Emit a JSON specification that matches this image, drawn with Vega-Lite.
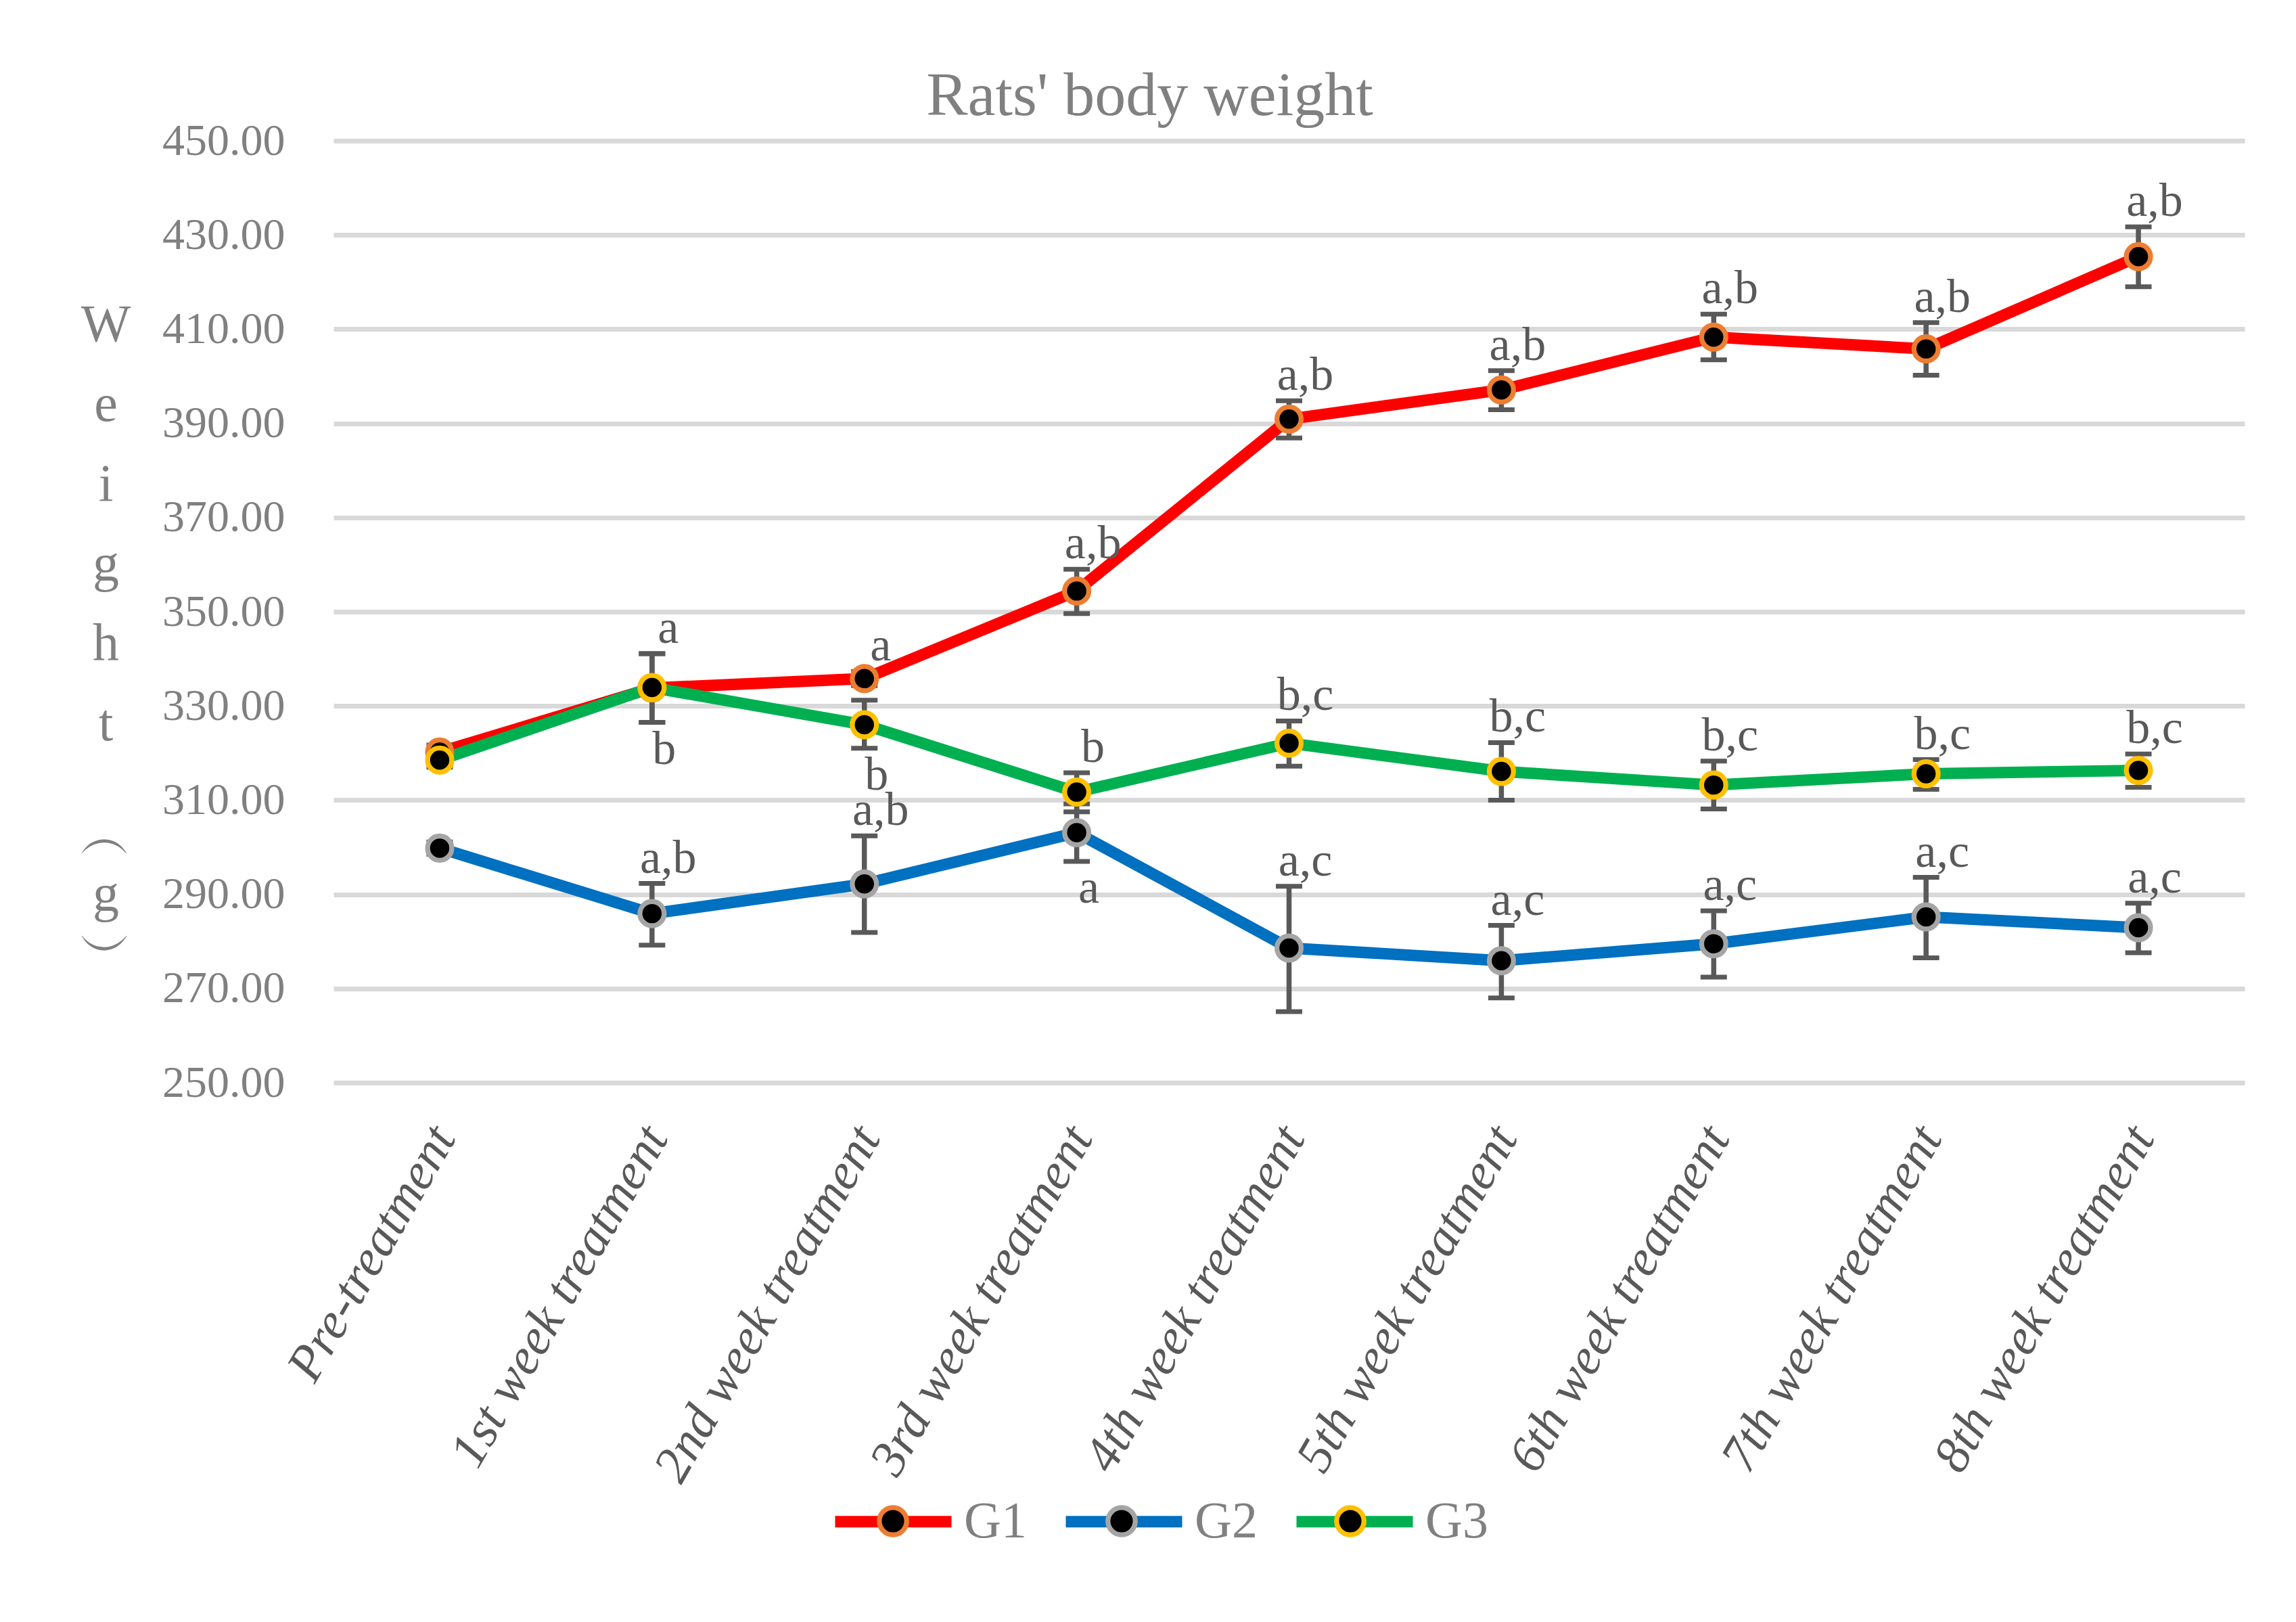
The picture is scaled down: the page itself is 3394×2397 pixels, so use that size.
{
  "$schema": "https://vega.github.io/schema/vega-lite/v6.json",
  "width": 2825,
  "height": 1392,
  "autosize": {"type": "none"},
  "padding": {"left": 493, "top": 208, "right": 76, "bottom": 797},
  "background": "#FFFFFF",
  "title": {"text": "Rats' body weight", "font": "Liberation Serif", "fontSize": 92, "fontWeight": "normal", "color": "#808080", "anchor": "middle", "frame": "group", "dx": -206, "baseline": "alphabetic", "offset": -87},
  "data": {"values": [
    {"week": "Pre-treatment", "group": "G1", "mean": 320.2, "lo": 318.7, "hi": 321.7, "above": "", "below": ""},
    {"week": "1st week treatment", "group": "G1", "mean": 333.8, "lo": 326.5, "hi": 341.1, "above": "a", "below": ""},
    {"week": "2nd week treatment", "group": "G1", "mean": 335.8, "lo": 334.3, "hi": 337.3, "above": "a", "below": ""},
    {"week": "3rd week treatment", "group": "G1", "mean": 354.4, "lo": 349.6, "hi": 359.0, "above": "a,b", "below": ""},
    {"week": "4th week treatment", "group": "G1", "mean": 390.9, "lo": 386.9, "hi": 394.8, "above": "a,b", "below": ""},
    {"week": "5th week treatment", "group": "G1", "mean": 397.1, "lo": 392.9, "hi": 401.2, "above": "a,b", "below": ""},
    {"week": "6th week treatment", "group": "G1", "mean": 408.3, "lo": 403.5, "hi": 413.2, "above": "a,b", "below": ""},
    {"week": "7th week treatment", "group": "G1", "mean": 405.8, "lo": 400.2, "hi": 411.4, "above": "a,b", "below": ""},
    {"week": "8th week treatment", "group": "G1", "mean": 425.4, "lo": 419.0, "hi": 431.7, "above": "a,b", "below": ""},
    {"week": "Pre-treatment", "group": "G2", "mean": 299.8, "lo": 298.5, "hi": 301.1, "above": "", "below": ""},
    {"week": "1st week treatment", "group": "G2", "mean": 285.9, "lo": 279.2, "hi": 292.3, "above": "a,b", "below": ""},
    {"week": "2nd week treatment", "group": "G2", "mean": 292.2, "lo": 281.9, "hi": 302.4, "above": "a,b", "below": ""},
    {"week": "3rd week treatment", "group": "G2", "mean": 303.1, "lo": 297.0, "hi": 309.2, "above": "", "below": "a"},
    {"week": "4th week treatment", "group": "G2", "mean": 278.6, "lo": 265.1, "hi": 291.7, "above": "a,c", "below": ""},
    {"week": "5th week treatment", "group": "G2", "mean": 275.9, "lo": 268.0, "hi": 283.4, "above": "a,c", "below": ""},
    {"week": "6th week treatment", "group": "G2", "mean": 279.5, "lo": 272.4, "hi": 286.5, "above": "a,c", "below": ""},
    {"week": "7th week treatment", "group": "G2", "mean": 285.2, "lo": 276.5, "hi": 293.6, "above": "a,c", "below": ""},
    {"week": "8th week treatment", "group": "G2", "mean": 282.9, "lo": 277.6, "hi": 288.1, "above": "a,c", "below": ""},
    {"week": "Pre-treatment", "group": "G3", "mean": 318.5, "lo": 317.0, "hi": 320.0, "above": "", "below": ""},
    {"week": "1st week treatment", "group": "G3", "mean": 333.9, "lo": 326.5, "hi": 341.1, "above": "", "below": "b"},
    {"week": "2nd week treatment", "group": "G3", "mean": 326.0, "lo": 321.0, "hi": 331.2, "above": "", "below": "b"},
    {"week": "3rd week treatment", "group": "G3", "mean": 311.7, "lo": 307.5, "hi": 315.8, "above": "b", "below": ""},
    {"week": "4th week treatment", "group": "G3", "mean": 322.1, "lo": 317.2, "hi": 326.8, "above": "b,c", "below": ""},
    {"week": "5th week treatment", "group": "G3", "mean": 316.1, "lo": 310.0, "hi": 322.2, "above": "b,c", "below": ""},
    {"week": "6th week treatment", "group": "G3", "mean": 313.2, "lo": 308.1, "hi": 318.3, "above": "b,c", "below": ""},
    {"week": "7th week treatment", "group": "G3", "mean": 315.6, "lo": 312.3, "hi": 318.6, "above": "b,c", "below": ""},
    {"week": "8th week treatment", "group": "G3", "mean": 316.3, "lo": 312.7, "hi": 319.8, "above": "b,c", "below": ""}
  ]},
  "encoding": {
    "x": {
      "field": "week", "type": "nominal",
      "scale": {"type": "point", "padding": 0.5, "domain": ["Pre-treatment", "1st week treatment", "2nd week treatment", "3rd week treatment", "4th week treatment", "5th week treatment", "6th week treatment", "7th week treatment", "8th week treatment"]},
      "axis": {"title": null, "labelAngle": -60, "labelFont": "Liberation Serif", "labelFontStyle": "italic", "labelFontSize": 76, "labelColor": "#595959", "labelPadding": 70, "labelOffset": 5, "ticks": false, "tickSize": 0, "domain": false, "grid": false, "labelOverlap": false, "labelFlush": false, "labelLimit": 0}
    }
  },
  "layer": [
    {
      "mark": {"type": "line", "strokeWidth": 17, "strokeCap": "round", "strokeJoin": "round"},
      "encoding": {
        "y": {"field": "mean", "type": "quantitative", "scale": {"domain": [250, 450], "nice": false, "zero": false},
          "axis": {"title": ["W", "e", "i", "g", "h", "t"], "titleAngle": 0, "titleAlign": "center", "titleBaseline": "top", "titleX": -337, "titleY": 233, "titleFont": "Liberation Serif", "titleFontSize": 78, "titleFontWeight": "normal", "titleColor": "#808080", "titleLineHeight": 118,
            "values": [250, 270, 290, 310, 330, 350, 370, 390, 410, 430, 450], "format": ".2f", "labelFont": "Liberation Serif", "labelFontSize": 66, "labelColor": "#808080", "labelPadding": 72, "labelLimit": 500, "ticks": false, "domain": false, "grid": true, "gridColor": "#D9D9D9", "gridWidth": 7}},
        "stroke": {"field": "group", "type": "nominal", "scale": {"domain": ["G1", "G2", "G3"], "range": ["#FF0000", "#0070C0", "#00B050"]},
          "legend": {"title": null, "orient": "none", "legendX": 733, "legendY": 1946, "direction": "horizontal", "symbolType": "stroke", "symbolSize": 29584, "symbolStrokeWidth": 17, "labelFont": "Liberation Serif", "labelFontSize": 76, "labelColor": "#808080", "labelOffset": 10, "columnPadding": 23, "padding": 0}},
        "order": {"value": null}
      }
    },
    {
      "mark": {"type": "rule", "color": "#595959", "strokeWidth": 7.5},
      "encoding": {"y": {"field": "lo", "type": "quantitative", "axis": null}, "y2": {"field": "hi"}}
    },
    {
      "mark": {"type": "tick", "color": "#595959", "size": 39, "thickness": 7, "opacity": 1},
      "encoding": {"y": {"field": "lo", "type": "quantitative", "axis": null}}
    },
    {
      "mark": {"type": "tick", "color": "#595959", "size": 39, "thickness": 7, "opacity": 1},
      "encoding": {"y": {"field": "hi", "type": "quantitative", "axis": null}}
    },
    {
      "mark": {"type": "point", "shape": "circle", "filled": true, "fill": "#000000", "size": 1280, "strokeWidth": 7.3, "opacity": 1},
      "encoding": {
        "y": {"field": "mean", "type": "quantitative",
          "axis": {"orient": "left", "title": ["︵", "g", "︶"], "titleAngle": 0, "titleAlign": "center", "titleBaseline": "alphabetic", "titleX": -337, "titleY": 1054, "titleFont": "Liberation Serif", "titleFontSize": 78, "titleFontWeight": "normal", "titleColor": "#808080", "titleLineHeight": 83, "labels": false, "ticks": false, "domain": false, "grid": false}},
        "stroke": {"field": "group", "type": "nominal", "scale": {"domain": ["G1", "G2", "G3"], "range": ["#ED7D31", "#A5A5A5", "#FFC000"]},
          "legend": {"title": null, "orient": "none", "legendX": 737, "legendY": 1950, "direction": "horizontal", "symbolType": "M0.235,0A0.235,0.235,0,1,1,-0.235,0A0.235,0.235,0,1,1,0.235,0Z", "symbolSize": 29584, "symbolStrokeWidth": 7.3, "symbolFillColor": "#000000", "labelExpr": "''", "labelFont": "Liberation Serif", "labelFontSize": 76, "labelOffset": 19, "columnPadding": 139, "padding": 0}}
      }
    },
    {
      "mark": {"type": "text", "font": "Liberation Serif", "fontSize": 70, "color": "#595959", "align": "center", "baseline": "alphabetic", "dx": 24, "dy": -16},
      "encoding": {"y": {"field": "hi", "type": "quantitative", "axis": null}, "text": {"field": "above"}}
    },
    {
      "mark": {"type": "text", "font": "Liberation Serif", "fontSize": 70, "color": "#595959", "align": "center", "baseline": "top", "dx": 18, "dy": 6},
      "encoding": {"y": {"field": "lo", "type": "quantitative", "axis": null}, "text": {"field": "below"}}
    }
  ],
  "resolve": {"scale": {"stroke": "independent"}, "legend": {"stroke": "independent"}, "axis": {"y": "independent"}},
  "config": {"view": {"stroke": null}}
}
